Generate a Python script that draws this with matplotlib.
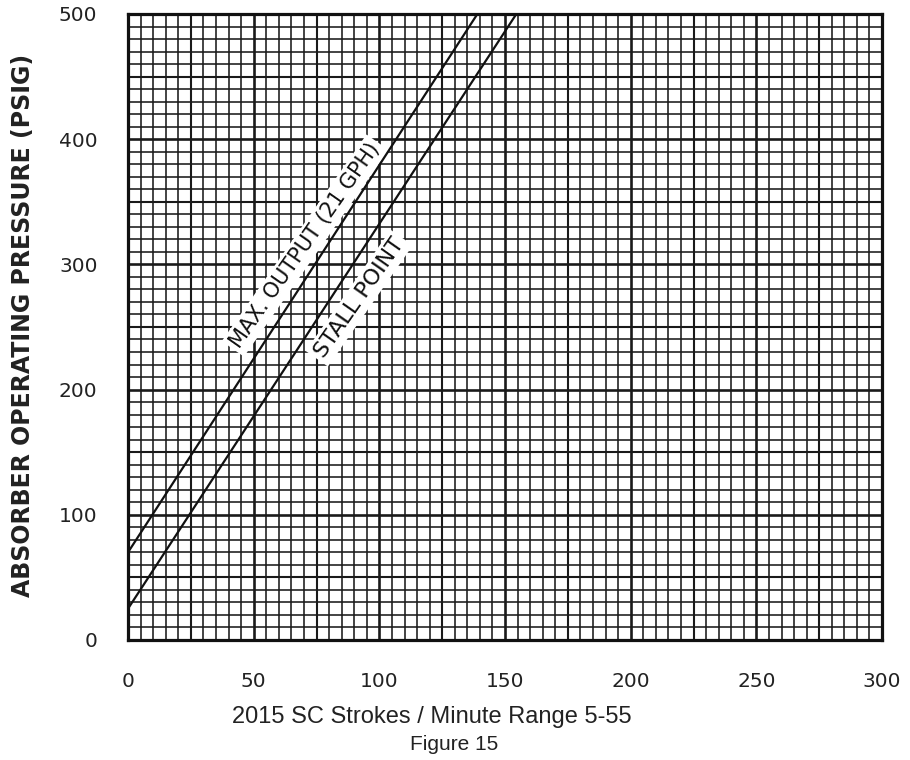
import numpy as np
import matplotlib.pyplot as plt

# Chart data
x_ticks = [0, 50, 100, 150, 200, 250, 300]
y_ticks = [0, 100, 200, 300, 400, 500]

# each line given by its two ends: (strokes/min, psig)
max_output_x = [0, 139]
max_output_y = [70, 500]
stall_point_x = [0, 154.5]
stall_point_y = [25, 500]

fig = plt.figure(figsize=(9.1, 7.6), dpi=100)
ax = fig.add_axes([0.1407, 0.158, 0.8286, 0.8236])

ax.set_xlim(0, 300)
ax.set_ylim(0, 500)

# graph-paper grid: fine, medium, heavy
for xv in np.arange(5, 300, 5):
    if xv % 50 == 0:
        lw = 1.9
    elif xv % 25 == 0:
        lw = 1.5
    else:
        lw = 1.15
    ax.axvline(xv, color='#1a1a1a', linewidth=lw, zorder=1)
for yv in np.arange(10, 500, 10):
    if yv % 100 == 0:
        lw = 1.9
    elif yv % 50 == 0:
        lw = 1.5
    else:
        lw = 1.15
    ax.axhline(yv, color='#1a1a1a', linewidth=lw, zorder=1)

ax.plot(max_output_x, max_output_y, color='#111111', linewidth=1.6, zorder=5)
ax.plot(stall_point_x, stall_point_y, color='#111111', linewidth=1.6, zorder=5)

# line labels, rotated along the lines
box = dict(facecolor='white', edgecolor='none', pad=2.5)
ax.text(70.5, 315, 'MAX. OUTPUT (21 GPH)', rotation=55, ha='center', va='center',
        fontsize=15, color='#111111', bbox=box, zorder=4, rotation_mode='anchor')
ax.text(92, 273, 'STALL POINT', rotation=55, ha='center', va='center',
        fontsize=16, color='#111111', bbox=box, zorder=4, rotation_mode='anchor')

for s in ax.spines.values():
    s.set_linewidth(2.3)
    s.set_color('#111111')
    s.set_zorder(6)

ax.set_xticks(x_ticks)
ax.set_yticks(y_ticks)
ax.tick_params(length=0, labelsize=14.5, colors='#222222')
ax.tick_params(axis='x', pad=23)
ax.tick_params(axis='y', pad=22)

ax.set_ylabel('ABSORBER OPERATING PRESSURE (PSIG)', fontsize=17, fontweight='bold',
              color='#222222')
ax.yaxis.set_label_coords(-0.124, 0.502)

fig.text(0.475, 0.057, '2015 SC Strokes / Minute Range 5-55', ha='center', va='center',
         fontsize=17, family='Liberation Sans', color='#222222')
fig.text(0.499, 0.020, 'Figure 15', ha='center', va='center',
         fontsize=15, family='Liberation Sans', color='#222222')

fig.savefig('out.png', dpi=100, facecolor='white')
